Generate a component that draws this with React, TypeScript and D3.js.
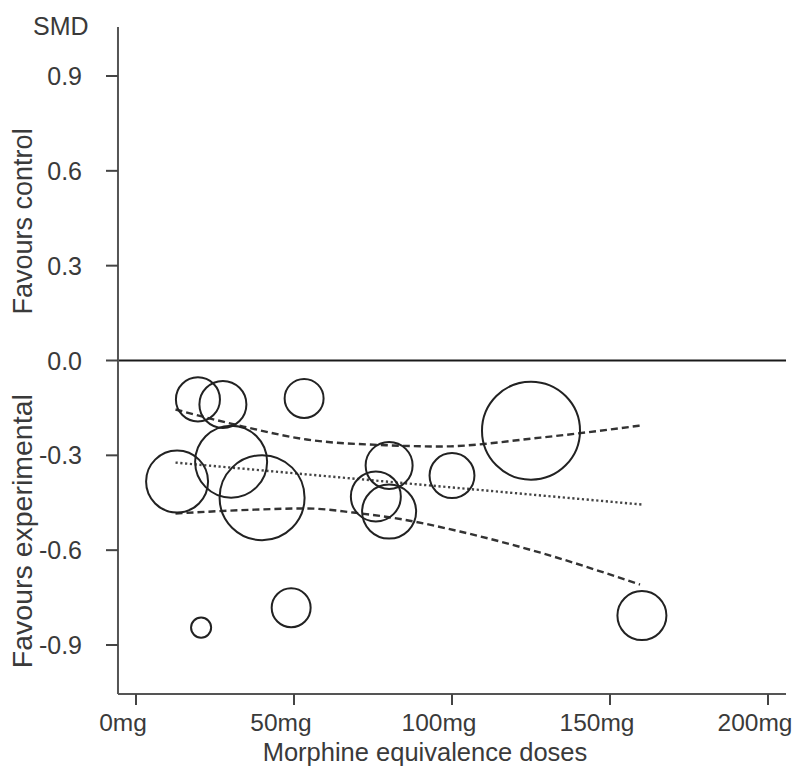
import React from "react";
import * as d3 from "d3";

// ---- data ----
const doses = [19.6, 27.5, 53.2, 30.1, 13.0, 39.9, 80.1, 75.9, 80.1, 100, 49.1, 20.6, 125, 160.1];
const smd = [-0.123, -0.139, -0.12, -0.32, -0.383, -0.434, -0.332, -0.43, -0.478, -0.364, -0.782, -0.845, -0.222, -0.807];
const weights = [20.2, 23, 15.8, 54, 40, 75.2, 23, 26, 30.4, 21, 15.8, 4.2, 100, 25];

const fitDoses = [12.5, 160.5];
const fitSmd = [-0.323, -0.456];

const upperDoses = [12.5, 34, 54, 79, 96, 128, 159.5];
const upperSmd = [-0.155, -0.209, -0.25, -0.268, -0.272, -0.244, -0.206];
const lowerDoses = [12.5, 37, 54, 68.7, 84.5, 102.5, 128, 159.5];
const lowerSmd = [-0.484, -0.472, -0.468, -0.481, -0.503, -0.541, -0.608, -0.709];

const xTicks = [0, 50, 100, 150, 200];
const xTickLabels = ["0mg", "50mg", "100mg", "150mg", "200mg"];
const yTicks = [0.9, 0.6, 0.3, 0.0, -0.3, -0.6, -0.9];
const yTickLabels = ["0.9", "0.6", "0.3", "0.0", "-0.3", "-0.6", "-0.9"];

const xAxisExtent = [-5.7, 205.7];
const yAxisExtent = [1.055, -1.055];

export default function App() {
  const W = 795, H = 767;
  const x = d3.scaleLinear().domain([0, 200]).range([136, 768]);
  const y = d3.scaleLinear().domain([0.9, -0.9]).range([76, 645]);
  const r = d3.scaleSqrt().domain([0, 100]).range([0, 49]);

  const pts = doses.map((d, i) => ({ d, s: smd[i], w: weights[i] }));
  const line = d3.line<[number, number]>().x((p) => x(p[0])).y((p) => y(p[1])).curve(d3.curveMonotoneX);
  const upper = line(upperDoses.map((d, i) => [d, upperSmd[i]]) as [number, number][]) || "";
  const lower = line(lowerDoses.map((d, i) => [d, lowerSmd[i]]) as [number, number][]) || "";
  const fit = line(fitDoses.map((d, i) => [d, fitSmd[i]]) as [number, number][]) || "";

  const font = "'Liberation Sans', Arial, sans-serif";
  const txt = "#3a3a3a";
  const axisCol = "#555";
  const x0 = x(xAxisExtent[0]);
  const x1 = x(xAxisExtent[1]);
  const yTop = y(yAxisExtent[0]);
  const yBot = y(yAxisExtent[1]);

  return (
    <svg width={W} height={H} style={{ position: "absolute", left: 0, top: 0, background: "#fff" }} fontFamily={font}>
      <rect x={0} y={0} width={W} height={H} fill="#fff" />
      {/* zero line */}
      <line x1={x0} x2={x1} y1={y(0)} y2={y(0)} stroke="#1a1a1a" strokeWidth={2} />
      {/* axes */}
      <line x1={x0} x2={x0} y1={yTop} y2={yBot} stroke={axisCol} strokeWidth={2} />
      <line x1={x0} x2={x1} y1={yBot} y2={yBot} stroke={axisCol} strokeWidth={2} />
      {yTicks.map((t, i) => (
        <g key={"yt" + i}>
          <line x1={x0 - 12} x2={x0} y1={y(t)} y2={y(t)} stroke="#444" strokeWidth={2} />
          <text x={82} y={y(t)} dy="0.36em" textAnchor="end" fontSize={25} fill={txt}>
            {yTickLabels[i]}
          </text>
        </g>
      ))}
      {xTicks.map((t, i) => (
        <g key={"xt" + i}>
          <line x1={x(t)} x2={x(t)} y1={yBot} y2={yBot + 11} stroke="#444" strokeWidth={2} />
          <text x={x(t) - 13} y={731} textAnchor="middle" fontSize={24.5} fill={txt}>
            {xTickLabels[i]}
          </text>
        </g>
      ))}
      <text x={33} y={35} fontSize={25} fill={txt}>SMD</text>
      <text x={425} y={761} textAnchor="middle" fontSize={25.5} fill={txt}>Morphine equivalence doses</text>
      <text transform={`translate(32,${y(0.44)}) rotate(-90)`} textAnchor="middle" fontSize={27} fill={txt}>
        Favours control
      </text>
      <text transform={`translate(32,${y(-0.54)}) rotate(-90)`} textAnchor="middle" fontSize={28.5} fill={txt}>
        Favours experimental
      </text>
      {/* regression */}
      <path d={fit} fill="none" stroke="#444" strokeWidth={2.4} strokeDasharray="2.2,2.6" />
      <path d={upper} fill="none" stroke="#333" strokeWidth={2.4} strokeDasharray="7,4" />
      <path d={lower} fill="none" stroke="#333" strokeWidth={2.4} strokeDasharray="7,4" />
      {/* bubbles */}
      {pts.map((p, i) => (
        <circle key={"c" + i} cx={x(p.d)} cy={y(p.s)} r={r(p.w)} fill="none" stroke="#222" strokeWidth={2} />
      ))}
    </svg>
  );
}
